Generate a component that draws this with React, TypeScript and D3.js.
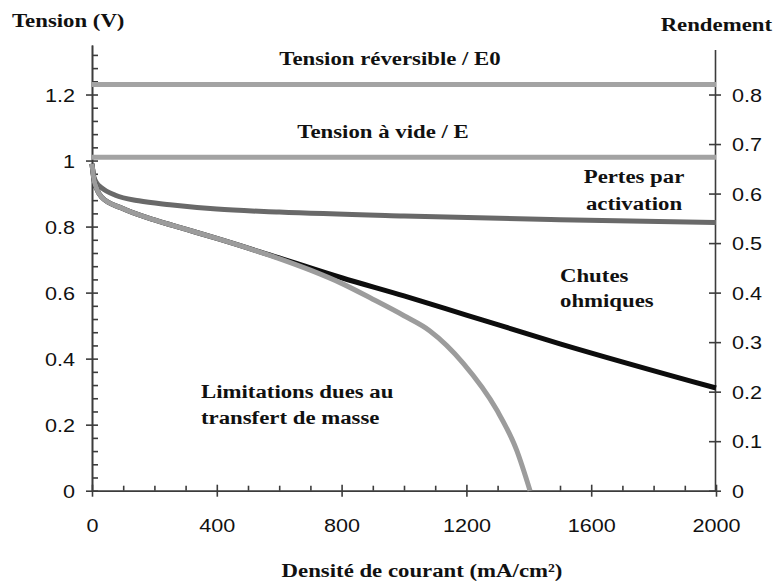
import * as d3 from "d3";
import React, { useEffect, RefObject } from "react";

// current density (mA/cm²) / voltage (V) pairs
const reversibleVoltage: number = 1.23;
const openCircuitVoltage: number = 1.01;

const activationLoss: [number, number][] = [
	[0, 0.99], [5, 0.955], [15, 0.932], [30, 0.918], [75, 0.895],
	[150, 0.878], [250, 0.866], [400, 0.853], [600, 0.844],
	[1000, 0.832], [1500, 0.821], [2000, 0.812],
];

const ohmicLoss: [number, number][] = [
	[0, 0.99], [5, 0.95], [15, 0.915], [30, 0.89], [95, 0.856],
	[200, 0.82], [300, 0.792], [400, 0.764], [600, 0.705],
	[800, 0.645], [1000, 0.59], [1200, 0.532], [1500, 0.445],
	[2000, 0.311],
];

const massTransport: [number, number][] = [
	[0, 0.99], [5, 0.95], [15, 0.915], [30, 0.89], [95, 0.856],
	[200, 0.82], [300, 0.792], [400, 0.764], [600, 0.703],
	[700, 0.668], [800, 0.628], [900, 0.58], [1000, 0.53],
	[1083, 0.484], [1190, 0.386], [1297, 0.245], [1361, 0.123],
	[1404, 0],
];

const xTicks: number[] = [0, 400, 800, 1200, 1600, 2000];
const xMinorTicks: number[] = [
	100, 200, 300, 500, 600, 700, 900, 1000, 1100,
	1300, 1400, 1500, 1700, 1800, 1900,
];
const yTicks: number[] = [0, 0.2, 0.4, 0.6, 0.8, 1, 1.2];
const yMinorTicks: number[] = d3
	.range(0, 34)
	.map((i) => +(i * 0.04).toFixed(2))
	.filter((v) => Math.round(v * 100) % 20 !== 0);
const yieldTicks: number[] = [0, 0.1, 0.2, 0.3, 0.4, 0.5, 0.6, 0.7, 0.8];

const App = () => {
	const ref: RefObject<HTMLDivElement> = React.createRef();

	useEffect(() => draw());
	const draw = () => {
		const width: number = 776;
		const height: number = 583;
		const stretch: string = "scale(1.2,1)";
		const serif: string = "'Liberation Serif', 'Times New Roman', serif";
		const sans: string = "'Liberation Sans', Arial, sans-serif";
		const axisColor: string = "#3c3c3c";

		d3.select(ref.current).selectAll("svg").remove();

		const svg = d3
			.select(ref.current)
			.append("svg")
			.attr("width", width)
			.attr("height", height)
			.style("position", "absolute")
			.style("left", 0)
			.style("top", 0)
			.style("background", "#fff");

		const xScale = d3.scaleLinear().domain([0, 2000]).range([92, 716]);
		const yScale = d3.scaleLinear().domain([0, 1.35]).range([490.7, 45]);
		const yieldScale = d3
			.scaleLinear()
			.domain([0, 1.35 / 1.5])
			.range([490.7, 45]);

		const styleAxis = (g: any) => {
			g.attr("color", axisColor);
			g.selectAll("path").attr("stroke-width", 1.6);
			g.selectAll("line").attr("stroke-width", 1.6);
			g.selectAll("text")
				.attr("font-family", sans)
				.attr("font-size", 18)
				.attr("fill", "#111");
		};

		// minor ticks first (inward)
		svg.append("g")
			.attr("transform", `translate(${xScale(0)},0)`)
			.call(
				d3
					.axisLeft(yScale)
					.tickValues(yMinorTicks)
					.tickSize(-6)
					.tickSizeOuter(0)
					.tickFormat(() => "")
			)
			.call(styleAxis);

		svg.append("g")
			.attr("transform", `translate(0,${yScale(0)})`)
			.call(
				d3
					.axisBottom(xScale)
					.tickValues(xMinorTicks)
					.tickSize(-5)
					.tickSizeOuter(0)
					.tickFormat(() => "")
			)
			.call(styleAxis);

		// left axis
		const left = svg
			.append("g")
			.attr("transform", `translate(${xScale(0)},0)`)
			.call(
				d3
					.axisLeft(yScale)
					.tickValues(yTicks)
					.tickSize(6)
					.tickSizeOuter(0)
					.tickFormat((d: any) => `${+(+d).toFixed(1)}`)
			)
			.call(styleAxis);
		left.selectAll(".tick line").attr("x1", 6).attr("x2", -6);
		left.selectAll(".tick text")
			.attr("x", null)
			.attr("dy", "0.36em")
			.attr("transform", `translate(-17,0) ${stretch}`);

		// right axis (rendement)
		const right = svg
			.append("g")
			.attr("transform", `translate(${xScale(2000) - 1},0)`)
			.call(
				d3
					.axisRight(yieldScale)
					.tickValues(yieldTicks)
					.tickSize(6)
					.tickSizeOuter(0)
					.tickFormat((d: any) => `${+(+d).toFixed(1)}`)
			)
			.call(styleAxis);
		right.select(".domain").attr("d", `M0.5,${yieldScale(0.89)}V${yieldScale(0) + 0.5}`);
		right.selectAll(".tick line").attr("x1", -6).attr("x2", 6);
		right.selectAll(".tick text")
			.attr("x", null)
			.attr("dy", "0.36em")
			.attr("transform", `translate(17,0) ${stretch}`);

		// bottom axis
		const bottom = svg
			.append("g")
			.attr("transform", `translate(0,${yScale(0)})`)
			.call(
				d3
					.axisBottom(xScale)
					.tickValues(xTicks)
					.tickSize(6)
					.tickSizeOuter(0)
					.tickFormat((d: any) => `${d}`)
			)
			.call(styleAxis);
		bottom.selectAll(".tick line").attr("y1", -6).attr("y2", 6);
		bottom.selectAll(".tick text")
			.attr("y", null)
			.attr("dy", null)
			.attr("transform", `translate(0,41) ${stretch}`);

		// curves
		const line = d3
			.line<[number, number]>()
			.x((d) => xScale(d[0]))
			.y((d) => yScale(d[1]))
			.curve(d3.curveMonotoneX);

		const addPath = (data: [number, number][], color: string) => {
			svg.append("path")
				.datum(data)
				.attr("fill", "none")
				.attr("stroke", color)
				.attr("stroke-width", 5)
				.attr("stroke-linejoin", "round")
				.attr("d", line);
		};

		addPath(
			[
				[0, reversibleVoltage],
				[2000, reversibleVoltage],
			],
			"#a3a3a3"
		);
		addPath(
			[
				[0, openCircuitVoltage],
				[2000, openCircuitVoltage],
			],
			"#a3a3a3"
		);
		addPath(activationLoss, "#696969");
		addPath(ohmicLoss, "#0d0d0d");
		addPath(massTransport, "#9c9c9c");

		// labels
		const addText = (
			x: number,
			y: number,
			str: string,
			anchor: string
		) => {
			svg.append("text")
				.attr("transform", `translate(${x},${y}) ${stretch}`)
				.attr("text-anchor", anchor)
				.attr("font-family", serif)
				.attr("font-weight", "bold")
				.attr("font-size", 19)
				.attr("fill", "#111")
				.text(str);
		};

		addText(12, 27, "Tension (V)", "start");
		addText(772, 31, "Rendement", "end");
		addText(390, 65, "Tension réversible / E0", "middle");
		addText(383, 138, "Tension à vide / E", "middle");
		addText(634, 183, "Pertes par", "middle");
		addText(634, 210, "activation", "middle");
		addText(560, 282, "Chutes", "start");
		addText(560, 307, "ohmiques", "start");
		addText(201, 398, "Limitations dues au", "start");
		addText(201, 424, "transfert de masse", "start");
		addText(422, 577, "Densité de courant (mA/cm²)", "middle");
	};

	return <div ref={ref}></div>;
};

export default App;
